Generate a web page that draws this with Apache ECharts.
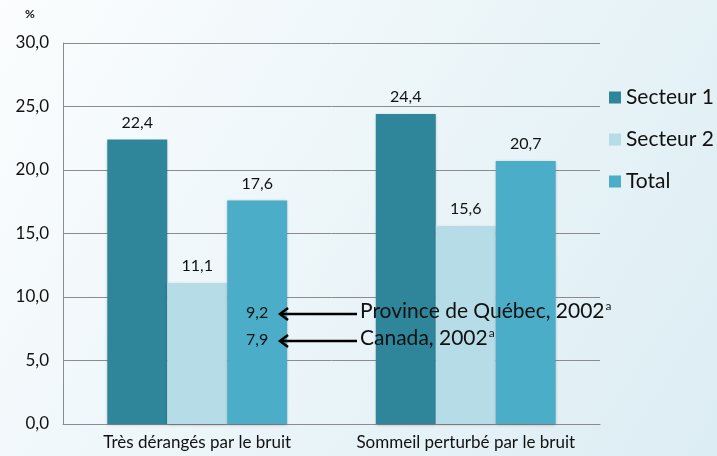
<!DOCTYPE html>
<html>
<head>
<meta charset="utf-8">
<script src="https://cdn.jsdelivr.net/npm/echarts@6/dist/echarts.min.js"></script>
<style>
  html, body { margin: 0; padding: 0; }
  #main { width: 717px; height: 456px; }
</style>
</head>
<body>
<div id="main"></div>
<script>
// donnees
var categories = ['Très dérangés par le bruit', 'Sommeil perturbé par le bruit'];
var secteur1 = [22.4, 24.4];
var secteur2 = [11.1, 15.6];
var total = [17.6, 20.7];
var yTicks = [0, 5, 10, 15, 20, 25, 30];
var refLabels = ['9,2', '7,9'];
var refNames = ['Province de Québec, 2002', 'Canada, 2002'];

var FONT = 'Lato, "Liberation Sans", sans-serif';
function fr(v) { return v.toFixed(1).replace('.', ','); }

var chart = echarts.init(document.getElementById('main'));

function serie(name, data, color) {
  return {
    name: name,
    type: 'bar',
    data: data,
    barGap: '0%',
    barCategoryGap: '33%',
    itemStyle: { color: color, shadowColor: 'rgba(0,0,0,0.25)', shadowBlur: 3, shadowOffsetY: 1 },
    label: {
      show: true, position: 'top', distance: 9,
      color: '#111', fontSize: 16, fontFamily: FONT,
      formatter: function (p) { return fr(p.value); }
    }
  };
}

// fleches et textes de reference
var graphics = [];
var ys = [314, 341];
for (var i = 0; i < refNames.length; i++) {
  graphics.push({
    type: 'text', left: 246, top: ys[i] - 9, z: 100,
    style: { text: refLabels[i], font: '16px ' + FONT, fill: '#111' }
  });
  graphics.push({
    type: 'line', z: 100,
    shape: { x1: 281, y1: ys[i], x2: 357, y2: ys[i] },
    style: { stroke: '#000', lineWidth: 2.5 }
  });
  graphics.push({
    type: 'polyline', z: 100,
    shape: { points: [[288, ys[i] - 6], [280, ys[i]], [288, ys[i] + 6]] },
    style: { stroke: '#000', lineWidth: 2.5, fill: null }
  });
  graphics.push({
    type: 'text', left: 360, top: ys[i] - 14, z: 100,
    style: {
      text: '{m|' + refNames[i] + '}{s|a}',
      rich: {
        m: { font: '21px ' + FONT, fill: '#111' },
        s: { font: '12px ' + FONT, fill: '#111', verticalAlign: 'top', padding: [0, 0, 10, 1] }
      }
    }
  });
}
graphics.push({
  type: 'text', left: 25, top: 8, z: 100,
  style: { text: '%', font: 'bold 12px ' + FONT, fill: '#111' }
});

var option = {
  backgroundColor: {
    type: 'linear', x: 0, y: 0, x2: 1, y2: 1,
    colorStops: [{ offset: 0, color: '#fbfdfe' }, { offset: 1, color: '#dcedf3' }]
  },
  animation: false,
  grid: { left: 63, right: 117, top: 43, bottom: 32 },
  legend: {
    orient: 'vertical', left: 604, top: 82,
    itemWidth: 12, itemHeight: 12, itemGap: 21,
    icon: 'rect',
    textStyle: { fontSize: 21, fontFamily: FONT, color: '#111' },
    data: ['Secteur 1', 'Secteur 2', 'Total']
  },
  xAxis: {
    type: 'category',
    data: categories,
    axisLine: { lineStyle: { color: '#8c8c8c' } },
    axisTick: { show: false },
    axisLabel: { interval: 0, fontSize: 17, fontFamily: FONT, color: '#111', margin: 10 }
  },
  yAxis: {
    type: 'value',
    min: yTicks[0], max: yTicks[yTicks.length - 1], interval: 5,
    axisLine: { show: true, lineStyle: { color: '#8c8c8c' } },
    axisTick: { show: false },
    splitLine: { lineStyle: { color: '#8c8c8c' } },
    axisLabel: { fontSize: 17, fontFamily: FONT, color: '#111', margin: 14, formatter: fr }
  },
  series: [
    serie('Secteur 1', secteur1, '#2f8599'),
    serie('Secteur 2', secteur2, '#b6dde7'),
    serie('Total', total, '#4badc7')
  ],
  graphic: graphics
};

chart.setOption(option);
</script>
</body>
</html>
